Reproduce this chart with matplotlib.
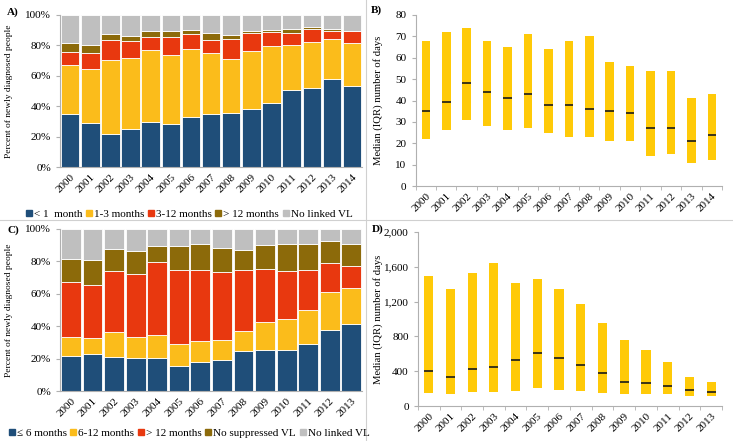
import matplotlib
matplotlib.use("Agg")
import matplotlib.pyplot as plt
from matplotlib.lines import Line2D
from matplotlib.ticker import FuncFormatter
import numpy as np

plt.rcParams['font.family'] = ['Liberation Serif', 'DejaVu Serif']

# ---- panel A data (cumulative tops, %)
years_a = ['2000', '2001', '2002', '2003', '2004', '2005', '2006', '2007',
           '2008', '2009', '2010', '2011', '2012', '2013', '2014']
a_lt1 = [35, 29, 21.5, 25, 29.7, 28.6, 33, 34.8, 35.7, 38, 42, 50.7, 51.8, 58, 53.5]
a_1to3_top = [67, 64.5, 70.5, 71.8, 77, 73.8, 77.5, 75, 70.8, 76.5, 79.3, 80.2, 82, 84.2, 81.6]
a_3to12_top = [75.8, 75, 83.7, 82.6, 85.5, 85.5, 87.4, 83.7, 84.4, 88, 88.5, 88.3, 90.7, 89.4, 89.4]
a_gt12_top = [81.3, 80.6, 87.4, 86.3, 89.2, 89.2, 90.3, 87.9, 87, 89.7, 90.4, 90.6, 92.1, 90.6, 89.7]
legend_a = ['< 1  month', '1-3 months', '3-12 months', '> 12 months', 'No linked VL']

# ---- panel B data (days)
b_q1 = [22, 26, 31, 28, 26, 27, 25, 23, 23, 21, 21, 14, 15, 11, 12]
b_med = [35, 39.5, 48, 44, 41, 43, 38, 38, 36, 35, 34, 27, 27, 21, 24]
b_q3 = [68, 72, 74, 68, 65, 71, 64, 68, 70, 58, 56, 54, 54, 41, 43]

# ---- panel C data (cumulative tops, %)
years_c = years_a[:-1]
c_le6 = [21.9, 22.7, 20.9, 20.5, 20.5, 15.5, 17.8, 19, 25, 25.4, 25.4, 29.3, 37.6, 41.3]
c_6to12_top = [33.1, 32.9, 36.4, 33.3, 34.7, 28.9, 31, 31.6, 37, 42.4, 44.4, 49.8, 61.2, 63.6]
c_gt12_top = [67.1, 65.3, 74.2, 72.1, 79.8, 74.6, 74.6, 73.6, 74.8, 75, 74, 74.8, 78.7, 77.3]
c_nosup_top = [81.4, 80.8, 87.6, 86.6, 89.7, 89.7, 90.5, 88.2, 87.2, 90.1, 90.9, 90.9, 92.4, 90.9]
legend_c = ['\u2264 6 months', '6-12 months', '> 12 months', 'No suppressed VL', 'No linked VL']

# ---- panel D data (days)
d_q1 = [153, 145, 168, 168, 176, 203, 187, 176, 153, 145, 145, 138, 122, 115]
d_med = [398, 340, 424, 455, 531, 616, 555, 478, 379, 275, 268, 226, 191, 168]
d_q3 = [1495, 1350, 1533, 1644, 1419, 1465, 1346, 1170, 956, 757, 642, 505, 333, 279]

stack_colors = ['#1f4e79', '#fbbc1b', '#e8380f', '#8c6a0a', '#bfbfbf']
iqr_color = '#ffca08'
axis_grey = '#b0b0b0'
fs = 8

fig = plt.figure(figsize=(7.33, 4.41), dpi=100)


def style_axes(ax):
    for s in ['top', 'right']:
        ax.spines[s].set_visible(False)
    for s in ['left', 'bottom']:
        ax.spines[s].set_color(axis_grey)
        ax.spines[s].set_linewidth(0.8)
    ax.tick_params(axis='both', colors=axis_grey, labelcolor='black',
                   labelsize=fs, length=3, width=0.8)


def stacked(ax, years, tops, labels):
    x = np.arange(len(years))
    prev = np.zeros(len(years))
    for top, col, lab in zip(tops, stack_colors, labels):
        top = np.array(top, dtype=float)
        ax.bar(x, top - prev, bottom=prev, width=0.92, color=col,
               edgecolor='white', linewidth=0.6, label=lab)
        prev = top
    ax.set_xlim(-0.5, len(years) - 0.5)
    ax.set_ylim(0, 100)
    ax.set_yticks(range(0, 101, 20))
    ax.yaxis.set_major_formatter(FuncFormatter(lambda v, p: f'{int(v)}%'))
    ax.set_xticks(x)
    ax.set_xticklabels(years, rotation=45, ha='right', rotation_mode='anchor')
    ax.set_ylabel('Percent of newly diagnosed people', fontsize=6.8)
    style_axes(ax)
    ax.tick_params(axis='x', length=0, pad=4)


def iqr(ax, years, q1, med, q3, ylim, yticks, fmt):
    x = np.arange(len(years))
    q1 = np.array(q1, dtype=float)
    q3 = np.array(q3, dtype=float)
    w = 0.42
    ax.bar(x, q3 - q1, bottom=q1, width=w, color=iqr_color, linewidth=0)
    ax.hlines(med, x - w / 2, x + w / 2, color='#1a1a1a', linewidth=1.2)
    ax.set_xlim(-0.5, len(years) - 0.5)
    ax.set_ylim(*ylim)
    ax.set_yticks(yticks)
    ax.yaxis.set_major_formatter(FuncFormatter(fmt))
    ax.set_xticks(x)
    ax.set_xticklabels(years, rotation=45, ha='right', rotation_mode='anchor')
    ax.set_xticks(np.arange(-0.5, len(years), 1), minor=True)
    ax.set_ylabel('Median (IQR) number of days', fontsize=7.7)
    style_axes(ax)
    ax.tick_params(axis='x', which='major', length=0, pad=4)
    ax.tick_params(axis='x', which='minor', length=3, color=axis_grey)


ax_a = fig.add_axes([0.082, 0.621, 0.412, 0.345])
stacked(ax_a, years_a, [a_lt1, a_1to3_top, a_3to12_top, a_gt12_top, [100] * 15], legend_a)
ax_a.yaxis.set_label_coords(-0.155, 0.5)

ax_c = fig.add_axes([0.082, 0.113, 0.412, 0.368])
stacked(ax_c, years_c, [c_le6, c_6to12_top, c_gt12_top, c_nosup_top, [100] * 14], legend_c)
ax_c.yaxis.set_label_coords(-0.155, 0.5)

ax_b = fig.add_axes([0.567, 0.578, 0.418, 0.388])
iqr(ax_b, years_a, b_q1, b_med, b_q3, (0, 80), range(0, 81, 10),
    lambda v, p: f'{int(v)}')
ax_b.yaxis.set_label_coords(-0.105, 0.5)

ax_d = fig.add_axes([0.570, 0.079, 0.415, 0.395])
iqr(ax_d, years_c, d_q1, d_med, d_q3, (0, 2000), range(0, 2001, 400),
    lambda v, p: f'{int(v):,}')
ax_d.yaxis.set_label_coords(-0.115, 0.5)

# legends below stacked panels
for ax, y in [(ax_a, 0.515), (ax_c, 0.018)]:
    h, l = ax.get_legend_handles_labels()
    handles = [Line2D([], [], marker='s', linestyle='none', markersize=4,
                      markerfacecolor=c, markeredgecolor=c) for c in stack_colors]
    fig.legend(handles, l, loc='center', bbox_to_anchor=(0.258, y), ncol=5,
               frameon=False, fontsize=fs, handlelength=0.5,
               handletextpad=0.2, columnspacing=0.35, borderpad=0.1)

# panel letters
for lab, x, y in [('A)', 0.009, 0.972), ('B)', 0.506, 0.976),
                  ('C)', 0.010, 0.478), ('D)', 0.507, 0.481)]:
    fig.text(x, y, lab, fontsize=fs, fontweight='bold', va='center')

# divider lines between panels
fig.add_artist(Line2D([0.4993, 0.4993], [0, 1], color='#d0d0d0', linewidth=0.8))
fig.add_artist(Line2D([0, 1], [0.501, 0.501], color='#d0d0d0', linewidth=0.8))

fig.savefig('out.png', dpi=100)
